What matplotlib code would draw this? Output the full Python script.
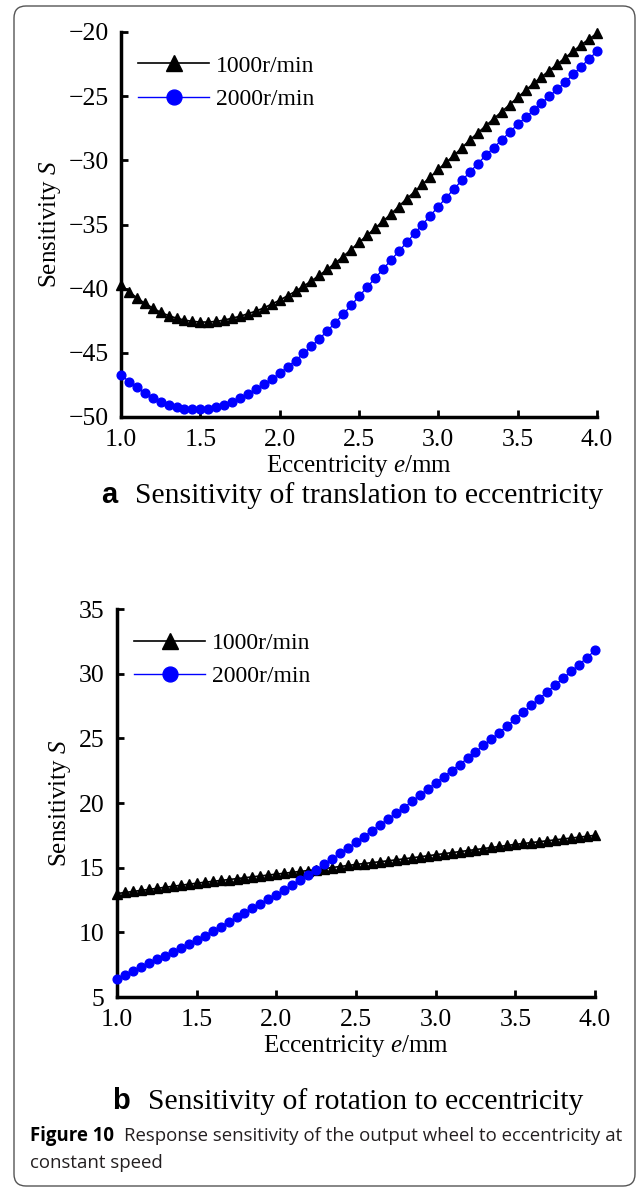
import matplotlib
matplotlib.use('Agg')
import matplotlib.pyplot as plt
from matplotlib.patches import FancyBboxPatch

# Times-like serif for the plots, italic symbols via mathtext
plt.rcParams['font.family'] = 'Liberation Serif'
plt.rcParams['mathtext.fontset'] = 'custom'
plt.rcParams['mathtext.rm'] = 'Liberation Serif'
plt.rcParams['mathtext.it'] = 'Liberation Serif:italic'

# eccentricity e (mm)
ecc = [1.00, 1.05, 1.10, 1.15, 1.20, 1.25, 1.30, 1.35, 1.40, 1.45,
       1.50, 1.55, 1.60, 1.65, 1.70, 1.75, 1.80, 1.85, 1.90, 1.95,
       2.00, 2.05, 2.10, 2.15, 2.20, 2.25, 2.30, 2.35, 2.40, 2.45,
       2.50, 2.55, 2.60, 2.65, 2.70, 2.75, 2.80, 2.85, 2.90, 2.95,
       3.00, 3.05, 3.10, 3.15, 3.20, 3.25, 3.30, 3.35, 3.40, 3.45,
       3.50, 3.55, 3.60, 3.65, 3.70, 3.75, 3.80, 3.85, 3.90, 3.95, 4.00]

# (a) translation sensitivity
trans_1000 = [-39.7, -40.25, -40.7, -41.15, -41.5, -41.85, -42.1, -42.3, -42.45, -42.55,
              -42.6, -42.6, -42.55, -42.45, -42.3, -42.15, -41.95, -41.75, -41.5, -41.2,
              -40.9, -40.55, -40.2, -39.8, -39.4, -38.95, -38.5, -38.0, -37.5, -36.95,
              -36.4, -35.85, -35.3, -34.75, -34.2, -33.6, -33.0, -32.45, -31.85, -31.3,
              -30.7, -30.15, -29.6, -29.0, -28.4, -27.85, -27.3, -26.75, -26.2, -25.65,
              -25.1, -24.55, -24.0, -23.5, -23.0, -22.5, -22.0, -21.5, -21.0, -20.55, -20.1]
trans_2000 = [-46.7, -47.25, -47.7, -48.15, -48.5, -48.8, -49.05, -49.25, -49.35, -49.4,
              -49.4, -49.35, -49.25, -49.05, -48.85, -48.55, -48.2, -47.85, -47.45, -47.05,
              -46.6, -46.1, -45.6, -45.05, -44.5, -43.9, -43.3, -42.65, -42.0, -41.3,
              -40.6, -39.9, -39.2, -38.5, -37.8, -37.1, -36.4, -35.7, -35.0, -34.3,
              -33.6, -32.9, -32.2, -31.55, -30.9, -30.25, -29.6, -29.0, -28.4, -27.8,
              -27.2, -26.65, -26.1, -25.55, -25.0, -24.45, -23.9, -23.3, -22.7, -22.1, -21.5]

# (b) rotation sensitivity
rot_1000 = [13.0, 13.08, 13.16, 13.24, 13.32, 13.4, 13.48, 13.56, 13.64, 13.72,
            13.8, 13.87, 13.94, 14.01, 14.08, 14.15, 14.22, 14.29, 14.36, 14.43,
            14.5, 14.57, 14.64, 14.71, 14.78, 14.85, 14.93, 15.01, 15.09, 15.17,
            15.25, 15.32, 15.39, 15.46, 15.53, 15.6, 15.68, 15.76, 15.84, 15.92,
            16.0, 16.08, 16.16, 16.24, 16.32, 16.4, 16.48, 16.56, 16.64, 16.72,
            16.8, 16.87, 16.94, 17.01, 17.08, 17.15, 17.22, 17.29, 17.36, 17.43, 17.5]
rot_2000 = [6.4, 6.7, 7.0, 7.3, 7.6, 7.9, 8.2, 8.5, 8.8, 9.1,
            9.4, 9.75, 10.1, 10.45, 10.8, 11.15, 11.5, 11.85, 12.2, 12.55,
            12.9, 13.27, 13.65, 14.02, 14.4, 14.82, 15.25, 15.68, 16.1, 16.52,
            16.95, 17.4, 17.85, 18.3, 18.75, 19.2, 19.65, 20.12, 20.6, 21.07,
            21.55, 22.02, 22.5, 22.97, 23.45, 23.95, 24.45, 24.95, 25.45, 25.97,
            26.5, 27.02, 27.55, 28.07, 28.6, 29.12, 29.65, 30.17, 30.7, 31.25, 31.8]

x_ticks = [1.0, 1.5, 2.0, 2.5, 3.0, 3.5, 4.0]
trans_yticks = [-50, -45, -40, -35, -30, -25, -20]
rot_yticks = [5, 10, 15, 20, 25, 30, 35]
speed_labels = ['1000r/min', '2000r/min']

W, H = 637, 1189
fig = plt.figure(figsize=(W / 100, H / 100), dpi=100)


def draw_panel(ax, s1, s2, yticks):
    ax.plot(ecc, s1, color='black', lw=1.2, marker='^', ms=6.5,
            label=speed_labels[0], clip_on=False, zorder=3)
    ax.plot(ecc, s2, color='#0000ff', lw=1.0, marker='o', ms=6.3,
            label=speed_labels[1], clip_on=False, zorder=3)
    ax.set_xlim(1.0, 4.0)
    ax.set_ylim(yticks[0], yticks[-1])
    ax.set_xticks(x_ticks)
    ax.set_xticklabels(['%.1f' % t for t in x_ticks])
    ax.set_yticks(yticks)
    for side in ['top', 'right']:
        ax.spines[side].set_visible(False)
    for side in ['left', 'bottom']:
        ax.spines[side].set_linewidth(2.5)
    ax.tick_params(direction='in', length=5, width=2, labelsize=18.5, pad=9)
    ax.set_xlabel(r'Eccentricity $e$/mm', fontsize=18, labelpad=1)
    ax.set_ylabel(r'Sensitivity $S$', fontsize=18, labelpad=4)
    ax.legend(loc='upper left', bbox_to_anchor=(0.036, 0.94), frameon=False,
              fontsize=17, handlelength=3.0, handletextpad=0.3,
              labelspacing=0.5, markerscale=1.7, borderpad=0, borderaxespad=0)


ax1 = fig.add_axes([121 / W, 1 - 417 / H, 476 / W, 385 / H])
draw_panel(ax1, trans_1000, trans_2000, trans_yticks)

ax2 = fig.add_axes([117 / W, 1 - 997 / H, 478 / W, 388 / H])
draw_panel(ax2, rot_1000, rot_2000, rot_yticks)

# sub-captions
fig.text(101 / W, 1 - 503 / H, 'a', fontsize=21, fontweight='bold',
         family='Liberation Sans', va='baseline')
fig.text(135 / W, 1 - 503 / H, 'Sensitivity of translation to eccentricity',
         fontsize=21.3, va='baseline')
fig.text(112 / W, 1 - 1109 / H, 'b', fontsize=21, fontweight='bold',
         family='Liberation Sans', va='baseline')
fig.text(148 / W, 1 - 1109 / H, 'Sensitivity of rotation to eccentricity',
         fontsize=21.3, va='baseline')

# figure caption
cap = fig.text(30 / W, 1 - 1141 / H, 'Figure 10', fontsize=13.4,
               fontweight='bold', family='Open Sans', va='baseline')
renderer = fig.canvas.get_renderer()
bb = cap.get_window_extent(renderer)
fig.text((bb.x1 + 10) / W, 1 - 1141 / H,
         'Response sensitivity of the output wheel to eccentricity at',
         fontsize=13.4, family='Open Sans', va='baseline', color='#231f20')
fig.text(30 / W, 1 - 1168 / H, 'constant speed', fontsize=13.4,
         family='Open Sans', va='baseline', color='#231f20')

# rounded frame around the whole figure
frame = FancyBboxPatch((14, 3), 621, 1180, boxstyle='round,pad=0,rounding_size=12',
                       transform=None, fill=False, edgecolor='#555555', lw=1.0)
fig.patches.append(frame)

fig.savefig('out.png', dpi=100)
